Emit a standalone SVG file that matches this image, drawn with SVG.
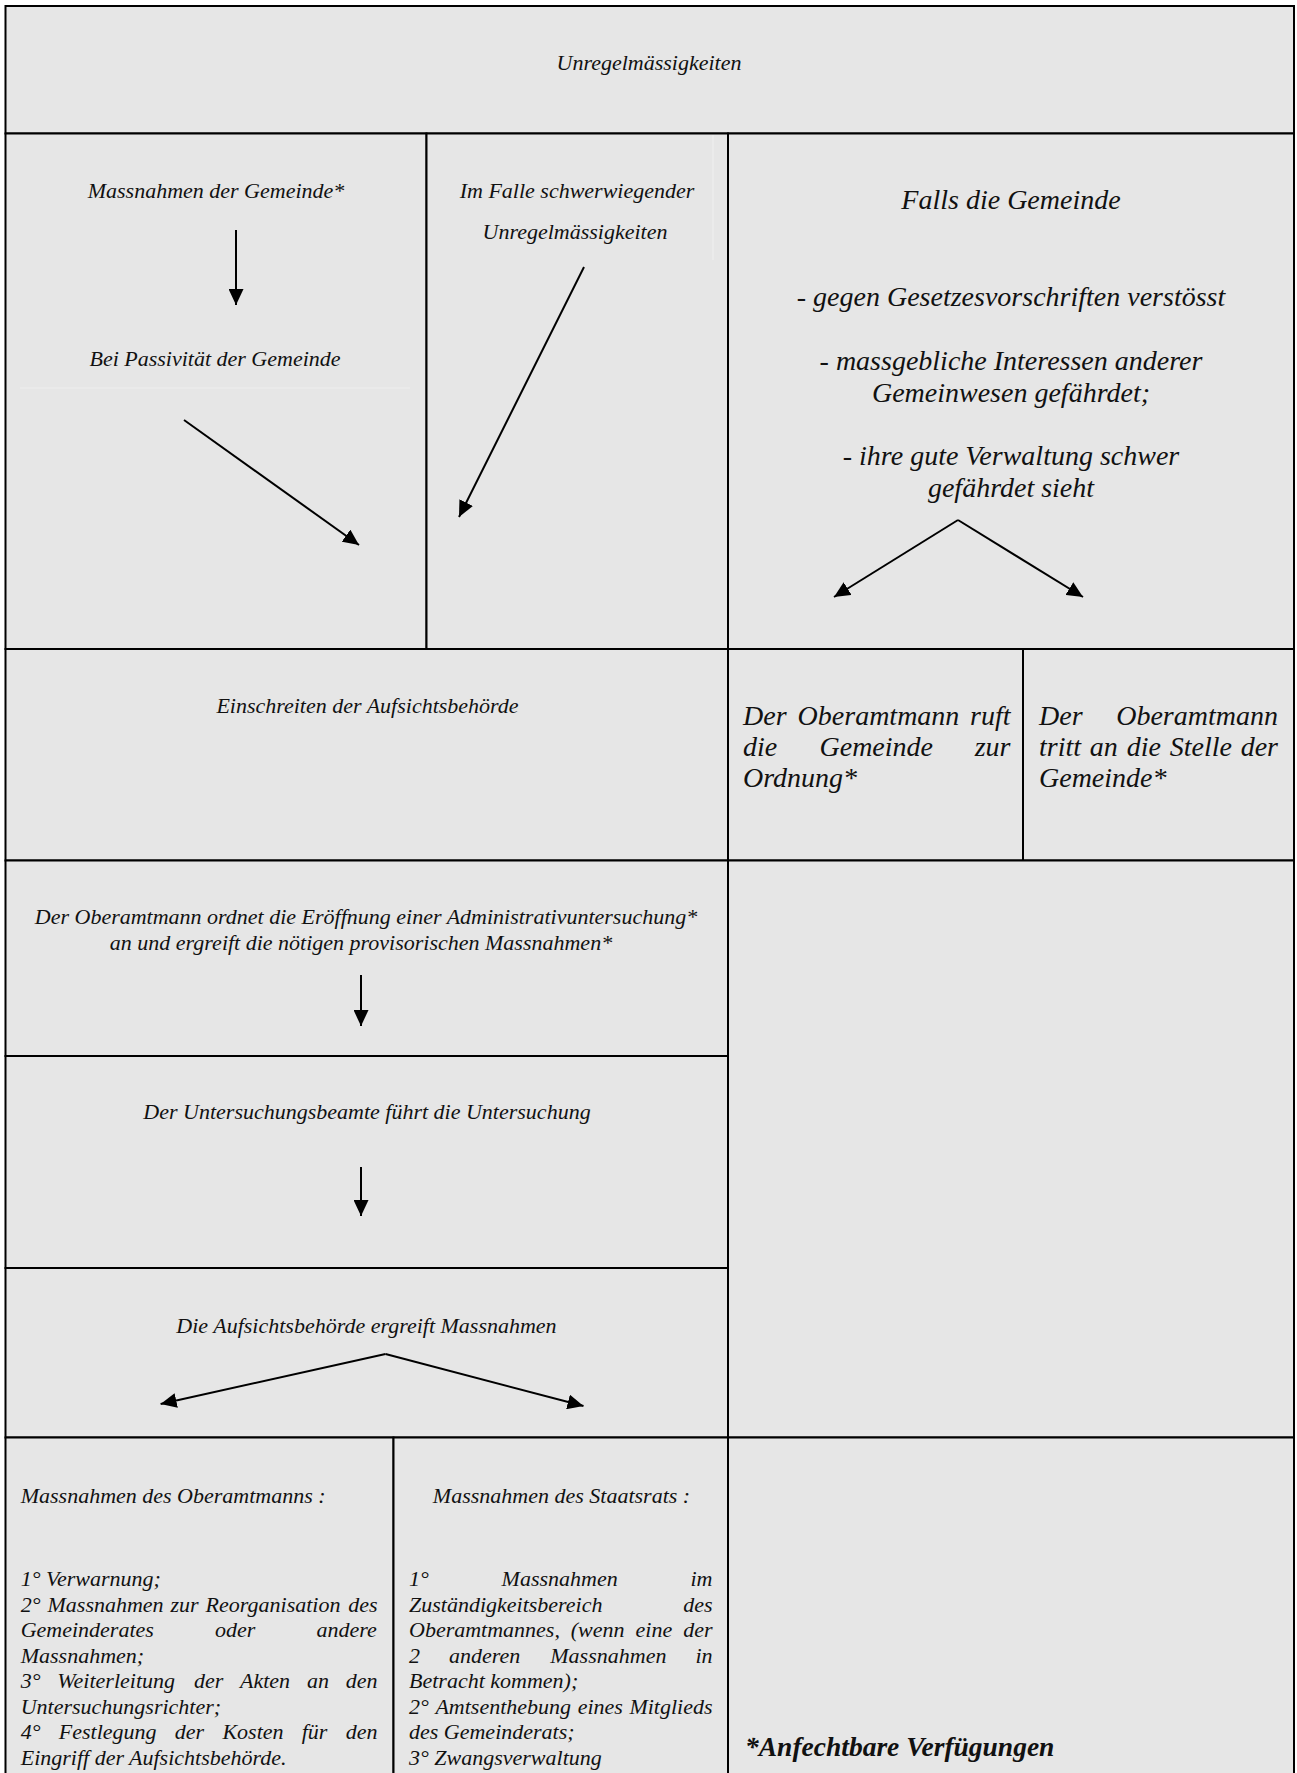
<svg xmlns="http://www.w3.org/2000/svg" width="1297" height="1773" viewBox="0 0 1297 1773">
<style>
.cell{fill:#e6e6e6;stroke:#000;stroke-width:2}
.t{font-family:"Liberation Serif","Times New Roman",serif;font-style:italic;font-size:22px;fill:#111}
.tl{font-family:"Liberation Serif","Times New Roman",serif;font-style:italic;font-size:28px;fill:#111}
.c{text-anchor:middle}
.b{font-weight:bold;font-size:27.5px}
.faint{stroke:#eeeeee;stroke-width:1.2;fill:none}
.conn{stroke:#000;stroke-width:2;fill:none;marker-end:url(#ah)}
</style>
<defs>
<marker id="ah" markerUnits="userSpaceOnUse" markerWidth="16" markerHeight="15" refX="16" refY="7.5" orient="auto" viewBox="0 0 16 15">
<path d="M0,0 L16,7.5 L0,15 z" fill="#000"/>
</marker>
</defs>
<rect x="0" y="0" width="1297" height="1773" fill="#ffffff"/>

<g id="n-title"><rect class="cell" x="5.5" y="6" width="1288.5" height="127.5"/>
<text class="t c" x="649" y="70">Unregelmässigkeiten</text></g>

<g id="n-gemeinde"><rect class="cell" x="5.5" y="133.5" width="421" height="515.5"/>
<line class="faint" x1="20" y1="388" x2="410" y2="388"/>
<text class="t c" x="216" y="198">Massnahmen der Gemeinde*</text>
<text class="t c" x="215" y="366">Bei Passivität der Gemeinde</text></g>

<g id="n-schwer"><rect class="cell" x="426.5" y="133.5" width="301.5" height="515.5"/>
<line class="faint" x1="713" y1="135" x2="713" y2="260"/>
<text class="t c" x="577" y="198">Im Falle schwerwiegender</text>
<text class="t c" x="575" y="239">Unregelmässigkeiten</text></g>

<g id="n-falls"><rect class="cell" x="728" y="133.5" width="566" height="515.5"/>
<text class="tl c" x="1011" y="209">Falls die Gemeinde</text>
<text class="tl c" x="1011" y="306">- gegen Gesetzesvorschriften verstösst</text>
<text class="tl c" x="1011" y="370">- massgebliche Interessen anderer</text>
<text class="tl c" x="1011" y="401.5">Gemeinwesen gefährdet;</text>
<text class="tl c" x="1011" y="465">- ihre gute Verwaltung schwer</text>
<text class="tl c" x="1011" y="496.5">gefährdet sieht</text></g>

<g id="n-einschreiten"><rect class="cell" x="5.5" y="649" width="722.5" height="211.5"/>
<text class="t c" x="367.5" y="713">Einschreiten der Aufsichtsbehörde</text></g>

<g id="n-ruft"><rect class="cell" x="728" y="649" width="295" height="211.5"/>
<text class="tl" y="725"><tspan x="743">Der</tspan> <tspan x="797.6">Oberamtmann</tspan> <tspan x="970">ruft</tspan></text>
<text class="tl" y="756"><tspan x="743">die</tspan> <tspan x="819.5">Gemeinde</tspan> <tspan x="974.7">zur</tspan></text>
<text class="tl" x="743" y="787">Ordnung*</text></g>

<g id="n-tritt"><rect class="cell" x="1023" y="649" width="271" height="211.5"/>
<text class="tl" y="725"><tspan x="1039">Der</tspan> <tspan x="1116.2">Oberamtmann</tspan></text>
<text class="tl" y="756"><tspan x="1039">tritt</tspan> <tspan x="1089.8">an</tspan> <tspan x="1126.7">die</tspan> <tspan x="1169.7">Stelle</tspan> <tspan x="1240.7">der</tspan></text>
<text class="tl" x="1039" y="787">Gemeinde*</text></g>

<g id="n-ordnet"><rect class="cell" x="5.5" y="860.5" width="722.5" height="195.5"/>
<text class="t c" x="366" y="923.5">Der Oberamtmann ordnet die Eröffnung einer Administrativuntersuchung*</text>
<text class="t c" x="361" y="949.5">an und ergreift die nötigen provisorischen Massnahmen*</text></g>

<g id="n-untersuchung"><rect class="cell" x="5.5" y="1056" width="722.5" height="212"/>
<text class="t c" x="367" y="1119">Der Untersuchungsbeamte führt die Untersuchung</text></g>

<g id="n-ergreift"><rect class="cell" x="5.5" y="1268" width="722.5" height="169.5"/>
<text class="t c" x="366.5" y="1333">Die Aufsichtsbehörde ergreift Massnahmen</text></g>

<g id="n-leer"><rect class="cell" x="728" y="860.5" width="566" height="577"/></g>

<g id="n-oberamtmann"><rect class="cell" x="5.5" y="1437.5" width="388" height="345"/>
<text class="t" x="20.7" y="1503">Massnahmen des Oberamtmanns :</text>
<text class="t" x="20.7" y="1586">1° Verwarnung;</text>
<text class="t" y="1611.6"><tspan x="20.7">2°</tspan> <tspan x="47.5">Massnahmen</tspan> <tspan x="170.5">zur</tspan> <tspan x="205.6">Reorganisation</tspan> <tspan x="348.2">des</tspan></text>
<text class="t" y="1637.1"><tspan x="20.7">Gemeinderates</tspan> <tspan x="215">oder</tspan> <tspan x="316.4">andere</tspan></text>
<text class="t" x="20.7" y="1662.7">Massnahmen;</text>
<text class="t" y="1688.3"><tspan x="20.7">3°</tspan> <tspan x="57.3">Weiterleitung</tspan> <tspan x="193.9">der</tspan> <tspan x="240">Akten</tspan> <tspan x="306.9">an</tspan> <tspan x="345.7">den</tspan></text>
<text class="t" x="20.7" y="1713.9">Untersuchungsrichter;</text>
<text class="t" y="1739.4"><tspan x="20.7">4°</tspan> <tspan x="58.8">Festlegung</tspan> <tspan x="174.8">der</tspan> <tspan x="222.4">Kosten</tspan> <tspan x="301.7">für</tspan> <tspan x="345.7">den</tspan></text>
<text class="t" x="20.7" y="1765">Eingriff der Aufsichtsbehörde.</text></g>

<g id="n-staatsrat"><rect class="cell" x="393.5" y="1437.5" width="334.5" height="345"/>
<text class="t c" x="561.5" y="1503">Massnahmen des Staatsrats :</text>
<text class="t" y="1586"><tspan x="409">1°</tspan> <tspan x="501.6">Massnahmen</tspan> <tspan x="690.5">im</tspan></text>
<text class="t" y="1611.6"><tspan x="409">Zuständigkeitsbereich</tspan> <tspan x="683.2">des</tspan></text>
<text class="t" y="1637.1"><tspan x="409">Oberamtmannes,</tspan> <tspan x="570.8">(wenn</tspan> <tspan x="635.5">eine</tspan> <tspan x="683.2">der</tspan></text>
<text class="t" y="1662.7"><tspan x="409">2</tspan> <tspan x="449.1">anderen</tspan> <tspan x="550.3">Massnahmen</tspan> <tspan x="695.4">in</tspan></text>
<text class="t" x="409" y="1688.3">Betracht kommen);</text>
<text class="t" y="1713.9"><tspan x="409">2°</tspan> <tspan x="435.4">Amtsenthebung</tspan> <tspan x="577.7">eines</tspan> <tspan x="629.4">Mitglieds</tspan></text>
<text class="t" x="409" y="1739.4">des Gemeinderats;</text>
<text class="t" x="409" y="1765">3° Zwangsverwaltung</text></g>

<g id="n-fussnote"><rect class="cell" x="728" y="1437.5" width="566" height="345"/>
<text class="t b" x="745" y="1756">*Anfechtbare Verfügungen</text></g>

<g id="connectors">
<line class="conn" x1="236" y1="230" x2="236" y2="305"/>
<line class="conn" x1="184" y1="420" x2="359" y2="545"/>
<line class="conn" x1="584" y1="267" x2="459" y2="517"/>
<line class="conn" x1="958" y1="520" x2="834" y2="597"/>
<line class="conn" x1="958" y1="520" x2="1083" y2="597"/>
<line class="conn" x1="361" y1="975" x2="361" y2="1026"/>
<line class="conn" x1="361" y1="1167" x2="361" y2="1216"/>
<line class="conn" x1="385.5" y1="1354" x2="160.6" y2="1404"/>
<line class="conn" x1="385.5" y1="1354" x2="583.5" y2="1406"/>
</g>
</svg>
